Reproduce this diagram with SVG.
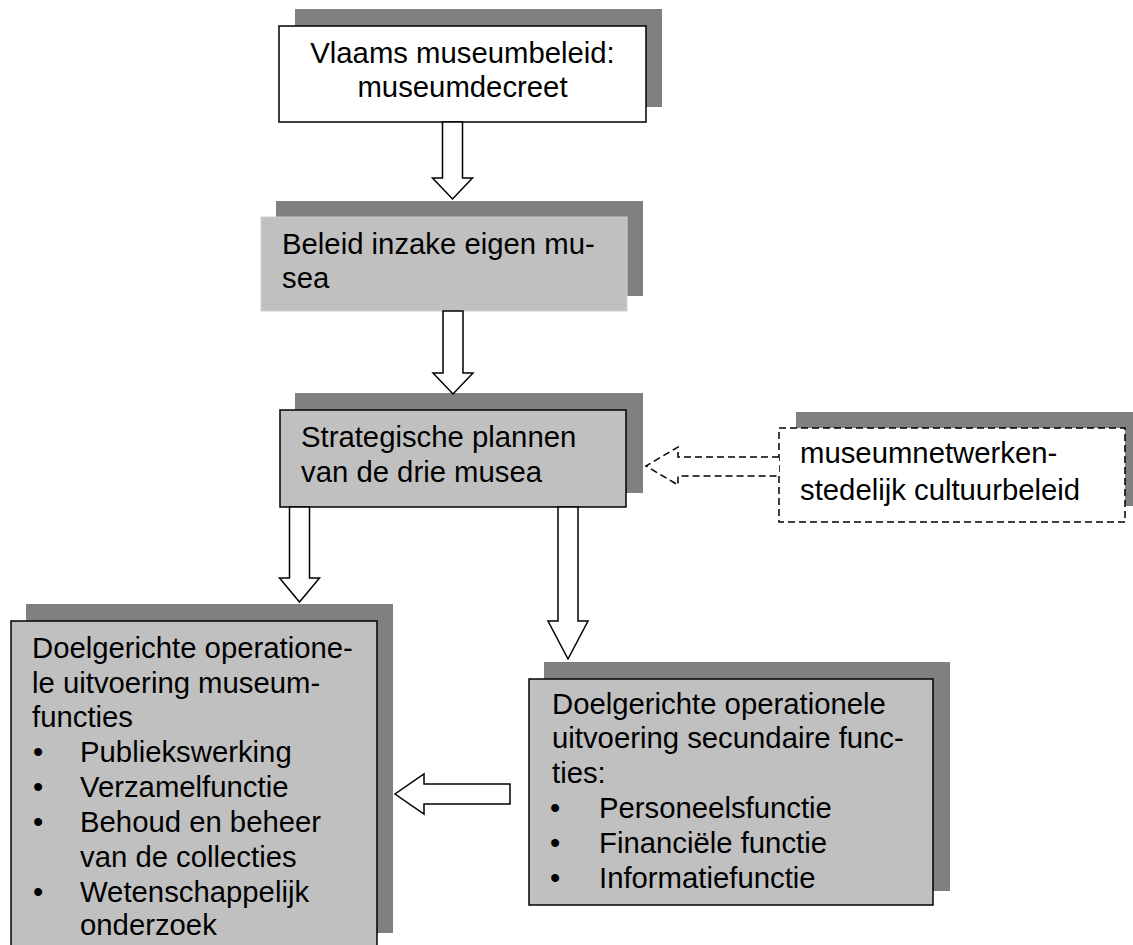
<svg xmlns="http://www.w3.org/2000/svg" width="1133" height="945" viewBox="0 0 1133 945">
<style>
text{font-family:"Liberation Sans",Arial,sans-serif;font-size:29.3px;fill:#000}
.sh{fill:#808080}
.bx{fill:#c0c0c0;stroke:#000;stroke-width:1.5}
.wb{fill:#fff;stroke:#000;stroke-width:1.5}
.arr{fill:#fff;stroke:#000;stroke-width:1.5;stroke-linejoin:miter}
.dash{fill:#fff;stroke:#000;stroke-width:1.5;stroke-dasharray:7 4}
</style>
<rect width="1133" height="945" fill="#fff"/>
<g id="node-vlaams">
<rect class="sh" x="295" y="9" width="367" height="98"/>
<rect class="wb" x="279" y="26" width="367" height="96"/>
<text x="462.5" y="63" text-anchor="middle">Vlaams museumbeleid:</text>
<text x="462.5" y="97" text-anchor="middle">museumdecreet</text>
</g>
<g id="node-beleid">
<rect class="sh" x="276" y="201" width="367" height="95"/>
<rect x="261" y="217" width="366" height="94" fill="#c0c0c0" stroke="#d0d0d0" stroke-width="1"/>
<text x="282" y="254">Beleid inzake eigen mu-</text>
<text x="282" y="288">sea</text>
</g>
<g id="node-strategisch">
<rect class="sh" x="295" y="393" width="348" height="100"/>
<rect class="bx" x="280" y="410" width="346" height="97"/>
<text x="301" y="447">Strategische plannen</text>
<text x="301" y="482">van de drie musea</text>
</g>
<g id="node-netwerken">
<rect class="sh" x="796" y="412" width="345" height="94"/>
<rect class="dash" x="779" y="428" width="346" height="94"/>
<text x="800" y="463">museumnetwerken-</text>
<text x="800" y="500">stedelijk cultuurbeleid</text>
</g>
<g id="node-museumfuncties">
<rect class="sh" x="26" y="604" width="367" height="329"/>
<rect class="bx" x="11" y="621" width="366" height="340"/>
<text x="32" y="658">Doelgerichte operatione-</text>
<text x="32" y="693">le uitvoering museum-</text>
<text x="32" y="727">functies</text>
<text x="33" y="762">•</text><text x="80" y="762">Publiekswerking</text>
<text x="33" y="797">•</text><text x="80" y="797">Verzamelfunctie</text>
<text x="33" y="832">•</text><text x="80" y="832">Behoud en beheer</text>
<text x="80" y="867">van de collecties</text>
<text x="33" y="902">•</text><text x="80" y="902">Wetenschappelijk</text>
<text x="80" y="935">onderzoek</text>
</g>
<g id="node-secundair">
<rect class="sh" x="544" y="662" width="406" height="229"/>
<rect class="bx" x="529" y="679" width="404" height="226"/>
<text x="552" y="714">Doelgerichte operationele</text>
<text x="552" y="748">uitvoering secundaire func-</text>
<text x="552" y="783">ties:</text>
<text x="550" y="818">•</text><text x="599" y="818">Personeelsfunctie</text>
<text x="550" y="853">•</text><text x="599" y="853">Financiële functie</text>
<text x="550" y="888">•</text><text x="599" y="888">Informatiefunctie</text>
</g>
<g id="connectors">
<polygon class="arr" points="442.5,122 462.5,122 462.5,178 472.5,178 452.5,199 432.5,178 442.5,178"/>
<polygon class="arr" points="443,311 463,311 463,373 473,373 453,394 433,373 443,373"/>
<polygon class="arr" points="289.5,507 309.5,507 309.5,578 319.5,578 299.5,602 279.5,578 289.5,578"/>
<polygon class="arr" points="558,507 578,507 578,621 588,621 568,659 548,621 558,621"/>
<polygon class="arr" points="510,784 510,804 424,804 424,814 395,794 424,774 424,784"/>
<polyline class="dash" fill="#fff" points="779,457 678,457 678,447 646,466 678,485 678,476 779,476"/>
</g>
</svg>
